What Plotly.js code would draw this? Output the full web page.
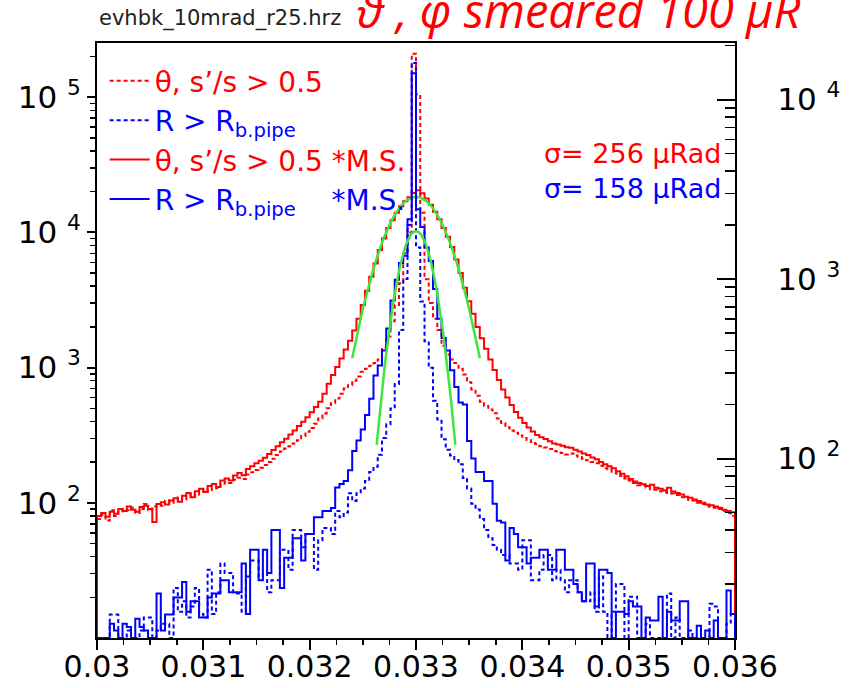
<!DOCTYPE html>
<html><head><meta charset="utf-8">
<script src="https://cdn.plot.ly/plotly-3.0.1.min.js"></script>
<style>html,body{margin:0;padding:0;background:#fff}#chart{width:852px;height:688px}</style>
</head><body><div id="chart"></div>
<script>
// Histogram binning (150 bins from 0.030 to 0.036 rad)
const binLow = 0.030, binHigh = 0.036, nBins = 150;

// Counts per bin (0 = empty bin)
const redSolid = [
 80,84,79,86,83,90,87,94,89,86,
 93,95,90,72,98,101,97,104,108,102,
 113,118,110,122,127,120,133,138,131,146,
 151,146,159,166,160,178,186,196,205,215,
 230,246,262,280,298,320,343,370,398,430,
 468,512,560,640,760,880,1010,1170,1360,1580,
 1880,2300,2900,3700,4700,5900,7400,9000,10800,12300,
 14000,15600,17000,18200,19600,20500,19500,17800,16000,14200,
 12500,10800,9300,7800,6300,5000,3900,3100,2500,2000,
 1650,1380,1150,960,810,690,600,530,470,425,
 390,360,337,318,306,296,285,274,270,264,
 258,255,247,240,232,226,216,210,200,193,
 186,180,171,164,157,150,144,140,137,133,
 136,129,127,124,129,121,118,115,111,109,
 106,103,100,97,96,94,92,89,87,85];

const redDotted = [
 76,82,74,88,80,86,90,88,92,84,
 90,98,88,94,96,95,104,100,105,110,
 106,112,117,113,120,126,122,130,128,136,
 142,140,148,153,150,162,168,175,182,190,
 200,212,226,240,252,262,275,290,312,335,
 358,385,420,458,500,545,590,640,700,740,
 800,860,930,980,1030,1080,1150,1400,1700,2200,
 2900,4200,7000,10000,210000,105000,14000,4500,3000,2300,
 1900,1450,1250,1150,1080,980,890,780,690,620,
 560,520,490,460,420,390,362,342,330,315,
 302,292,282,272,262,256,250,242,240,234,
 228,232,224,218,212,206,200,196,188,180,
 176,170,165,158,151,146,140,135,134,130,
 126,125,122,120,118,117,114,110,108,105,
 104,100,98,95,93,92,90,87,84,80];

const blueSolid = [
 0,0,0,12,11,0,12,11.5,0,12.8,
 11.5,11,0,0,17.7,11,13.5,13.5,16.8,16.8,
 20.5,14,16,16,13,13,16.8,17.7,17.7,21,
 21,18,18,18,26,13.6,31,31,21,31,
 23,40,40,19,28,28,36,36,27,38,
 38,47,47,51,51,53,69,72,75,86,
 110,126,145,175,215,290,330,400,530,760,
 990,1230,1350,2150,14000,2450,1950,1500,1260,880,
 600,470,400,310,250,205,200,125,100,84,
 84,75,75,56,45,44,27,41,38,32,
 32,26,28,28,31,31,24,24,31,31,
 24,24,20,18,16,26,26,15,24,24,
 23,0,14,14,13.6,16,15,15,0,13,
 12.5,12.5,17,0,14,12.5,12.5,16,16,0,
 0,11.7,0,11,0,12.5,0,0,18.4,13.6];

const blueDotted = [
 0,0,0,13.5,13.5,0,0,11,0,0,
 11,13,13,0,11,12,12,0,19,14,
 16,13,15,19,13.6,13,24,13.6,18,26,
 23,23,17.7,17.7,14,22,27,27,22,23,
 18,21,21,31,31,24,40,40,32,38,
 38,24,35,41,41,38,51,47,50,64,
 58,64,68,75,84,90,105,130,155,190,
 260,520,1000,2000,16000,1500,750,450,320,210,
 165,128,112,104,98,93,78,68,56,52,
 46,40,36,33,31,29,29,26,26,24,
 35,35,21,21,24,29,29,21,24,21,
 18,21,21,18,16,16,18,14,22,14,
 0,14,20,20,0,17,17,0,0,12,
 0,0,0,0,17.7,0,13,0,0,11,
 0,0,0,0,15.5,15,0,0,12,13.6];

// Gaussian fit parameters (green curves)
const fitMean = 0.033;
const redFit  = {sigma: 0.000256, peak: 18300, from: 0.0324,  to: 0.0336};
const blueFit = {sigma: 0.000158, peak: 1850,  from: 0.03263, to: 0.03337};

// Axis ticks
const xTickVals = [0.030,0.031,0.032,0.033,0.034,0.035,0.036];
const xTickText = ['0.03','0.031','0.032','0.033','0.034','0.035','0.036'];
const yLeftTickVals = [100,1000,10000,100000];
const yLeftTickText = ['10 <sup>2</sup>','10 <sup>3</sup>','10 <sup>4</sup>','10 <sup>5</sup>'];
const yRightTickVals = [100,1000,10000];
const yRightTickText = ['10 <sup>2</sup>','10 <sup>3</sup>','10 <sup>4</sup>'];

// ---------------------------------------------------------------
const edges = [];
for (let i = 0; i <= nBins; i++) edges.push(binLow + i*(binHigh-binLow)/nBins);
const FLOOR = 10; // empty bins drawn on the frame bottom (log axis minimum)
function stepXY(vals){
  const x=[edges[0]], y=[FLOOR];
  vals.forEach((v,i)=>{ x.push(edges[i]); y.push(v>0?v:FLOOR); });
  x.push(edges[nBins]); y.push(FLOOR);
  return {x,y};
}
function minorList(maxV){
  const out=[];
  for (let d=10; d<maxV; d*=10) for (let k=2;k<=9;k++) if (k*d<=maxV) out.push(k*d);
  return out;
}
function gauss(p){
  const x=[],y=[]; const n=80;
  for (let i=0;i<=n;i++){ const xx=p.from+(p.to-p.from)*i/n; x.push(xx);
    y.push(p.peak*Math.exp(-0.5*Math.pow((xx-fitMean)/p.sigma,2))); }
  return {x,y};
}
const RED='#ff0000', BLUE='#0000ff', GREEN='#3ce63c';
const rs=stepXY(redSolid), rd=stepXY(redDotted), bs=stepXY(blueSolid), bd=stepXY(blueDotted);
const gr=gauss(redFit), gb=gauss(blueFit);

const traces = [
 {x:rd.x,y:rd.y,type:'scatter',mode:'lines',line:{shape:'hv',color:RED,width:2,dash:'4px,3px'},
  name:'<span style="color:#ff0000">θ, s’/s &gt; 0.5</span>',yaxis:'y'},
 {x:bd.x,y:bd.y,type:'scatter',mode:'lines',line:{shape:'hv',color:BLUE,width:2,dash:'4px,3px'},
  name:'<span style="color:#0000ff">R &gt; R<sub>b.pipe</sub></span>',yaxis:'y2'},
 {x:rs.x,y:rs.y,type:'scatter',mode:'lines',line:{shape:'hv',color:RED,width:2},
  name:'<span style="color:#ff0000">θ, s’/s &gt; 0.5 *M.S.</span>',yaxis:'y'},
 {x:bs.x,y:bs.y,type:'scatter',mode:'lines',line:{shape:'hv',color:BLUE,width:2},
  name:'<span style="color:#0000ff">R &gt; R<sub>b.pipe</sub>\u00a0\u00a0\u00a0\u00a0*M.S.</span>',yaxis:'y2'},
 {x:gr.x,y:gr.y,type:'scatter',mode:'lines',line:{color:GREEN,width:2.5},showlegend:false,yaxis:'y'},
 {x:gb.x,y:gb.y,type:'scatter',mode:'lines',line:{color:GREEN,width:2.5},showlegend:false,yaxis:'y2'}
];

const F='DejaVu Sans';
const layout = {
 width:852, height:688,
 margin:{l:97,r:117,t:43,b:50,pad:0},
 paper_bgcolor:'#fff', plot_bgcolor:'#fff',
 font:{family:F,color:'#000'},
 showlegend:true,
 legend:{x:0.012,y:0.978,xanchor:'left',yanchor:'top',bgcolor:'rgba(0,0,0,0)',
   font:{family:F,size:28},tracegroupgap:0,itemwidth:40,traceorder:'normal'},
 xaxis:{range:[binLow,binHigh],tickmode:'array',tickvals:xTickVals,ticktext:xTickText,
   ticks:'outside',ticklen:10,tickwidth:2,tickcolor:'#000',showline:true,linewidth:2,linecolor:'#000',
   mirror:true,showgrid:false,zeroline:false,tickfont:{family:F,size:30,color:'#000'},ticklabelstandoff:-9,
   minor:{ticks:'outside',ticklen:5,tickwidth:1.5,tickcolor:'#000',dtick:0.00025,tick0:0.03,showgrid:false}},
 yaxis:{type:'log',range:[1,5.401],tickmode:'array',tickvals:yLeftTickVals,ticktext:yLeftTickText,
   ticks:'outside',ticklen:8,tickwidth:2,tickcolor:'#000',showline:true,linewidth:2,linecolor:'#000',
   showgrid:false,zeroline:false,tickfont:{family:F,size:31,color:'#000'},layer:'below traces',
   minor:{tickmode:'array',tickvals:minorList(300000),ticks:'outside',ticklen:5,tickwidth:1.5,tickcolor:'#000',showgrid:false}},
 yaxis2:{type:'log',overlaying:'y',side:'right',range:[1,4.315],tickmode:'array',tickvals:yRightTickVals,ticktext:yRightTickText,
   ticks:'inside',ticklen:18,tickwidth:2,tickcolor:'#000',showline:true,linewidth:2,linecolor:'#000',
   showgrid:false,zeroline:false,tickfont:{family:F,size:31,color:'#000'},ticklabelstandoff:34,
   minor:{tickmode:'array',tickvals:minorList(30000),ticks:'inside',ticklen:10,tickwidth:1.5,tickcolor:'#000',showgrid:false}},
 annotations:[
  {xref:'paper',yref:'paper',x:0,y:1.042,xanchor:'left',yanchor:'middle',showarrow:false,
   text:'evhbk_10mrad_r25.hrz',font:{family:F,size:21,color:'#222'}},
  {xref:'paper',yref:'paper',x:0.404,y:1.055,xanchor:'left',yanchor:'middle',showarrow:false,
   text:'<i>ϑ , φ smeared 100 μR</i>',font:{family:'Open Sans',size:47,color:RED}},
  {xref:'paper',yref:'paper',x:0.981,y:0.815,xanchor:'right',yanchor:'middle',showarrow:false,
   text:'σ= 256 μRad',font:{family:F,size:27,color:RED}},
  {xref:'paper',yref:'paper',x:0.981,y:0.756,xanchor:'right',yanchor:'middle',showarrow:false,
   text:'σ= 158 μRad',font:{family:F,size:27,color:BLUE}}
 ]
};
Plotly.newPlot('chart',traces,layout,{displayModeBar:false,staticPlot:true});
</script></body></html>
